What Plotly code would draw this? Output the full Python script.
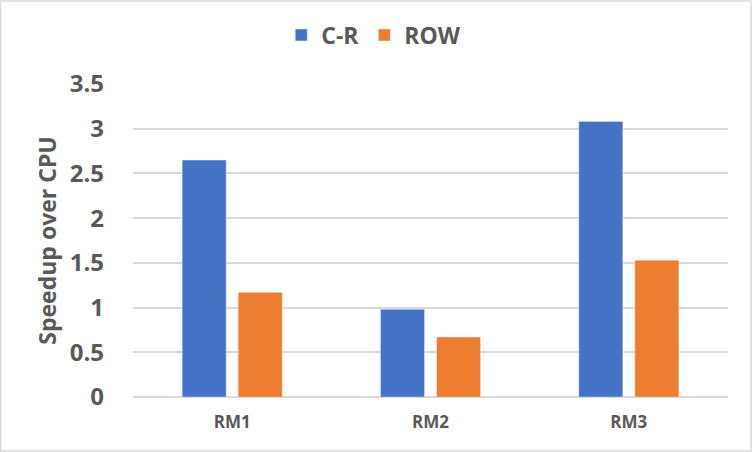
import plotly.graph_objects as go

categories = ["RM1", "RM2", "RM3"]
cr_speedup = [2.65, 0.98, 3.08]
row_speedup = [1.17, 0.67, 1.53]
y_ticks = [0, 0.5, 1, 1.5, 2, 2.5, 3, 3.5]
y_ticklabels = ["0", "0.5", "1", "1.5", "2", "2.5", "3", "3.5"]

font_family = "Open Sans, DejaVu Sans, sans-serif"
text_grey = "#595959"

fig = go.Figure()
fig.add_trace(go.Bar(x=categories, y=cr_speedup, name="C-R", marker_color="#4472C4"))
fig.add_trace(go.Bar(x=categories, y=row_speedup, name="ROW", marker_color="#ED7D31"))

# grey frame around the whole chart, like an Excel chart area
fig.add_shape(type="rect", xref="paper", yref="paper",
              x0=-0.2227, x1=1.0387, y0=-0.1725, y1=1.265,
              line=dict(color="#d9d9d9", width=1.5), layer="below")

fig.update_layout(
    width=752, height=452,
    margin=dict(l=133, r=24, t=84, b=55, autoexpand=False),
    paper_bgcolor="white", plot_bgcolor="white",
    barmode="group", bargap=0.435, bargroupgap=0.214,
    font=dict(family=font_family, color=text_grey),
    showlegend=True,
    legend=dict(orientation="h", x=0.497, xanchor="center", xref="container",
                y=1 - 35 / 452, yanchor="middle", yref="container",
                bgcolor="rgba(0,0,0,0)",
                font=dict(size=23, family=font_family, color=text_grey, weight="bold"),
                itemwidth=30, traceorder="normal"),
    xaxis=dict(showline=False, ticks="", showgrid=False, automargin=False,
               ticklabelstandoff=13,
               tickfont=dict(size=17, weight="bold", color=text_grey)),
    yaxis=dict(range=[0, 3.5], tickvals=y_ticks, ticktext=y_ticklabels,
               showgrid=True, gridcolor="#d9d9d9", gridwidth=1.5,
               zeroline=True, zerolinecolor="#d9d9d9", zerolinewidth=1.5,
               showline=False, ticks="", ticklabelstandoff=28, automargin=False,
               tickfont=dict(size=24, weight="bold", color=text_grey),
               title=dict(text="Speedup over CPU", standoff=6,
                          font=dict(size=23, weight="bold", color=text_grey))),
)

# drop the browser's default 8px body margin so the figure sits at the page corner
fig.write_html("out.html", config={"displayModeBar": False},
               post_script="document.body.style.margin='0';")
